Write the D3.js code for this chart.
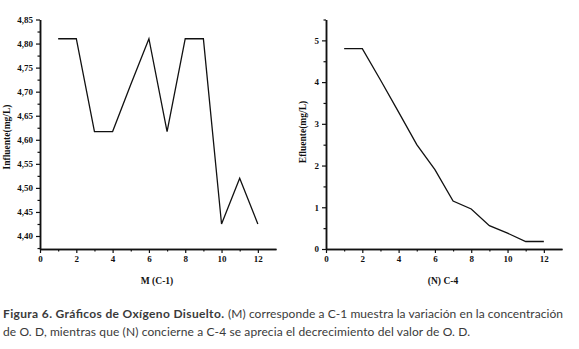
<!DOCTYPE html>
<html>
<head>
<meta charset="utf-8">
<script src="https://cdn.jsdelivr.net/npm/d3@7"></script>
<style>
  body { margin: 0; background: #fff; }
  svg { display: block; }
  .axis text { font-family: "Liberation Serif", serif; font-weight: bold; font-size: 9px; fill: #111; }
  .axis path, .axis line { stroke: #111; }
  .axis path { stroke-width: 1.5; }
  .axis line { stroke-width: 1.2; }
  .title { font-family: "Liberation Serif", serif; font-weight: bold; font-size: 9.5px; fill: #111; }
  .caption { font-family: Lato, "Open Sans", sans-serif; font-size: 12px; fill: #3a3a3a; }
</style>
</head>
<body>
<script>
// data
const muestras = [1, 2, 3, 4, 5, 6, 7, 8, 9, 10, 11, 12];
const influente = [4.81, 4.81, 4.617, 4.617, 4.715, 4.81, 4.617, 4.81, 4.81, 4.425, 4.52, 4.425];
const efluente = [4.8, 4.8, 4.05, 3.28, 2.5, 1.9, 1.15, 0.96, 0.56, 0.38, 0.18, 0.18];
const xTicks = [0, 2, 4, 6, 8, 10, 12];
const influenteTicks = [4.40, 4.45, 4.50, 4.55, 4.60, 4.65, 4.70, 4.75, 4.80, 4.85];
const efluenteTicks = [0, 1, 2, 3, 4, 5];
const captionBold = "Figura 6. Gráficos de Oxígeno Disuelto.";
const captionLine1 = "(M) corresponde a C-1 muestra la variación en la concentración";
const captionLine2 = "de O. D, mientras que (N) concierne a C-4 se aprecia el decrecimiento del valor de O. D.";

const W = 579, H = 349;
const svg = d3.select("body").append("svg").attr("width", W).attr("height", H);

const comma = d => d3.format(".2f")(d).replace(".", ",");

function panel(opts) {
  const x = d3.scaleLinear().domain([0, 13]).range([opts.left, opts.left + 236]);
  const y = d3.scaleLinear().domain(opts.yDomain).range([249, 19.5]);
  const g = svg.append("g");

  // minor ticks first, then major ones on top
  g.append("g").attr("class", "axis")
    .attr("transform", `translate(0,${y.range()[0]})`)
    .call(d3.axisBottom(x).tickValues(d3.range(1, 13, 2)).tickSize(2.5).tickSizeOuter(0).tickFormat(""));
  g.append("g").attr("class", "axis")
    .attr("transform", `translate(${opts.left},0)`)
    .call(d3.axisLeft(y).tickValues(opts.minor).tickSize(2.5).tickSizeOuter(0).tickFormat(""));

  g.append("g").attr("class", "axis")
    .attr("transform", `translate(0,${y.range()[0]})`)
    .call(d3.axisBottom(x).tickValues(xTicks).tickSize(4).tickSizeOuter(0).tickPadding(3));
  g.append("g").attr("class", "axis")
    .attr("transform", `translate(${opts.left},0)`)
    .call(d3.axisLeft(y).tickValues(opts.ticks).tickSize(4).tickSizeOuter(0).tickPadding(3).tickFormat(opts.fmt));

  const line = d3.line().x((d, i) => x(muestras[i])).y(d => y(d));
  g.append("path").datum(opts.values)
    .attr("d", line).attr("fill", "none").attr("stroke", "#111").attr("stroke-width", 1.3);

  g.append("text").attr("class", "title")
    .attr("x", opts.left + 117).attr("y", 284).attr("text-anchor", "middle")
    .text(opts.xTitle);
  g.append("text").attr("class", "title")
    .attr("transform", `translate(${opts.yTitleX},${opts.yTitleY}) rotate(-90)`)
    .attr("text-anchor", "middle")
    .text(opts.yTitle);
}

panel({
  left: 40, yDomain: [4.373, 4.85], values: influente,
  ticks: influenteTicks, minor: d3.range(4.375, 4.85, 0.05),
  fmt: comma, xTitle: "M  (C-1)", yTitle: "Influente(mg/L)", yTitleX: 10, yTitleY: 137
});
panel({
  left: 326, yDomain: [0, 5.5], values: efluente,
  ticks: efluenteTicks, minor: [0.5, 1.5, 2.5, 3.5, 4.5, 5.5],
  fmt: d3.format("d"), xTitle: "(N) C-4", yTitle: "Efluente(mg/L)", yTitleX: 306, yTitleY: 132
});

// caption, stretched to the widths seen in the reference
svg.append("text").attr("class", "caption").attr("x", 3).attr("y", 318)
  .attr("font-weight", "bold").attr("fill", "#2a2a2a")
  .attr("textLength", 221).attr("lengthAdjust", "spacing")
  .text(captionBold);
svg.append("text").attr("class", "caption").attr("x", 228).attr("y", 318)
  .attr("textLength", 335).attr("lengthAdjust", "spacing")
  .text(captionLine1);
svg.append("text").attr("class", "caption").attr("x", 3).attr("y", 336)
  .attr("textLength", 467).attr("lengthAdjust", "spacing")
  .text(captionLine2);
</script>
</body>
</html>
